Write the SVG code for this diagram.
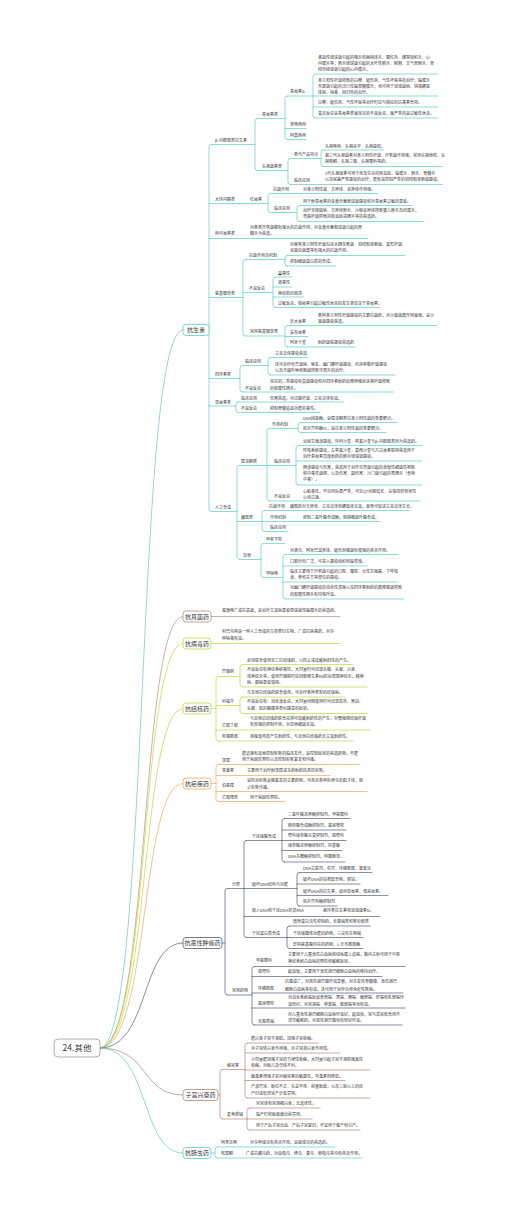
<svg xmlns="http://www.w3.org/2000/svg" width="505" height="1213" viewBox="0 0 505 1213">
<style>
text{font-family:"Noto Sans CJK SC","Noto Sans",sans-serif;font-size:4px;fill:#3a3a3a}
.m{font-size:6px;text-anchor:middle}
.r{font-size:8.5px;text-anchor:middle}
path{fill:none;stroke-width:0.7;stroke-linecap:round}
rect{fill:#fff;stroke-width:0.8}
.k1{stroke:#5ccdc8}.k2{stroke:#b68e79}.k3{stroke:#c2d63c}.k4{stroke:#f3a65e}.k5{stroke:#515b7d}.k6{stroke:#b5847c}
</style>
<rect width="505" height="1213" fill="#fff" stroke="none"/>
<g id="connectors">
<path class="k1" d="M100,1048C150,1048 135,330 183,330"/>
<path class="k2" d="M100,1048C150,1048 140,616.5 183,616.5"/>
<path class="k3" d="M100,1048C150,1048 140,643.5 183,643.5"/>
<path class="k3" d="M100,1048C150,1048 140,708.5 183,708.5"/>
<path class="k4" d="M100,1048C150,1048 140,783.5 183,783.5"/>
<path class="k5" d="M100,1048C150,1048 140,943 183,943"/>
<path class="k6" d="M100,1048C150,1048 140,1095 183,1095"/>
<path class="k1" d="M100,1048C150,1048 140,1153 183,1153"/>
<g class="k1">
<path d="M211.5,144.5Q209,144.5 209,147V509Q209,511.5 211.5,511.5"/>
<path d="M211.5,144.5H255M209,203.5H268M209,238.5H368M209,297.5H243M209,378.5H240M209,406H236M211.5,511.5H237"/>
<path d="M257.5,118.5Q255,118.5 255,121V168Q255,170.5 257.5,170.5"/>
<path d="M257.5,118.5H285M257.5,170.5H288"/>
<path d="M287.5,96Q285,96 285,98.5V137Q285,139.5 287.5,139.5"/>
<path d="M287.5,96H313M285,128.5H306M287.5,139.5H306"/>
<path d="M315.5,74Q313,74 313,76.5V115.5Q313,118 315.5,118"/>
<path d="M315.5,74H438M313,96H438M313,107H438M315.5,118H438"/>
<path d="M290.5,158.5Q288,158.5 288,161V182Q288,184.5 290.5,184.5"/>
<path d="M290.5,158.5H321M290.5,184.5H442"/>
<path d="M323.5,150Q321,150 321,152.5V164Q321,166.5 323.5,166.5"/>
<path d="M323.5,150H384M323.5,166.5H442"/>
<path d="M270.5,193.5Q268,193.5 268,196V210Q268,212.5 270.5,212.5"/>
<path d="M270.5,193.5H378M270.5,212.5H297"/>
<path d="M299.5,205.5Q297,205.5 297,208V219Q297,221.5 299.5,221.5"/>
<path d="M299.5,205.5H412M299.5,221.5H423"/>
<path d="M245.5,259.5Q243,259.5 243,262V333.5Q243,336 245.5,336"/>
<path d="M245.5,259.5H285M243,292.5H273M245.5,336H285"/>
<path d="M287.5,255.5Q285,255.5 285,258V263.5Q285,266 287.5,266"/>
<path d="M287.5,255.5H405M287.5,266H336"/>
<path d="M275.5,277Q273,277 273,279.5V305Q273,307.5 275.5,307.5"/>
<path d="M275.5,277H292M273,287H292M273,297H304M275.5,307.5H380"/>
<path d="M287.5,325.5Q285,325.5 285,328V344.5Q285,347 287.5,347"/>
<path d="M287.5,325.5H437M285,336.5H308M287.5,347H355"/>
<path d="M242.5,365.5Q240,365.5 240,368V389.5Q240,392 242.5,392"/>
<path d="M242.5,365.5H268M242.5,392H393"/>
<path d="M270.5,357.5Q268,357.5 268,360V372.5Q268,375 270.5,375"/>
<path d="M270.5,357.5H308M270.5,375H395"/>
<path d="M238.5,402Q236,402 236,404.5V410Q236,412.5 238.5,412.5"/>
<path d="M238.5,402H344M238.5,412.5H320"/>
<path d="M239.5,465.5Q237,465.5 237,468V557Q237,559.5 239.5,559.5"/>
<path d="M239.5,465.5H267M237,521.5H262M239.5,559.5H261"/>
<path d="M269.5,428.5Q267,428.5 267,431V498.5Q267,501 269.5,501"/>
<path d="M269.5,428.5H298M267,465.5H296M269.5,501H420"/>
<path d="M300.5,422.5Q298,422.5 298,425V430Q298,432.5 300.5,432.5"/>
<path d="M300.5,422.5H397M300.5,432.5H386"/>
<path d="M298.5,445.5Q296,445.5 296,448V482.5Q296,485 298.5,485"/>
<path d="M298.5,445.5H422M296,461H422M298.5,485H422"/>
<path d="M264.5,510.5Q262,510.5 262,513V529Q262,531.5 264.5,531.5"/>
<path d="M264.5,510.5H409M262,521.5H380M264.5,531.5H288"/>
<path d="M263.5,543.5Q261,543.5 261,546V575Q261,577.5 263.5,577.5"/>
<path d="M263.5,543.5H285M263.5,577.5H283"/>
<path d="M285.5,554.5Q283,554.5 283,557V596.5Q283,599 285.5,599"/>
<path d="M285.5,554.5H398M283,566H368M283,582H398M285.5,599H404"/>
</g>
<g class="k2"><path d="M211,616.5H340"/></g>
<g class="k3">
<path d="M211,643.5H340"/>
<path d="M211,708.5H216"/>
<path d="M218.5,676.5Q216,676.5 216,679V738.5Q216,741 218.5,741"/>
<path d="M218.5,676.5H240M216,705.5H240M216,730H370M218.5,741H353"/>
<path d="M242.5,664.5Q240,664.5 240,667V684.5Q240,687 242.5,687"/>
<path d="M242.5,664.5H353M242.5,687H367"/>
<path d="M242.5,697Q240,697 240,699.5V711Q240,713.5 242.5,713.5"/>
<path d="M242.5,697H345M242.5,713.5H367"/>
</g>
<g class="k4">
<path d="M211,783.5H216"/>
<path d="M218.5,764.5Q216,764.5 216,767V799Q216,801.5 218.5,801.5"/>
<path d="M218.5,764.5H360M216,775.5H330M216,791.5H367M218.5,801.5H285"/>
</g>
<g class="k5">
<path d="M222,943H225"/>
<path d="M227.5,888.5Q225,888.5 225,891V992.5Q225,995 227.5,995"/>
<path d="M227.5,888.5H244M227.5,995H252"/>
<path d="M246.5,840.5Q244,840.5 244,843V935Q244,937.5 246.5,937.5"/>
<path d="M246.5,840.5H282M244,888.5H297M244,916.5H380M246.5,937.5H287"/>
<path d="M284.5,818.5Q282,818.5 282,821V859.5Q282,862 284.5,862"/>
<path d="M284.5,818.5H350M282,830H346M282,840.5H346M282,850.5H342M284.5,862H345"/>
<path d="M299.5,872.5Q297,872.5 297,875V903.5Q297,906 299.5,906"/>
<path d="M299.5,872.5H372M297,884H360M297,895.5H388M299.5,906H337"/>
<path d="M289.5,926Q287,926 287,928.5V946Q287,948.5 289.5,948.5"/>
<path d="M289.5,926H370M287,937.5H363M289.5,948.5H363"/>
<path d="M254.5,966.5Q252,966.5 252,969V1022.5Q252,1025 254.5,1025"/>
<path d="M254.5,966.5H405M252,976.5H382M252,993H403M252,1008H405M254.5,1025H402"/>
</g>
<g class="k6">
<path d="M218,1095H220"/>
<path d="M222.5,1069.5Q220,1069.5 220,1072V1116.5Q220,1119 222.5,1119"/>
<path d="M222.5,1069.5H245M222.5,1119H247"/>
<path d="M247.5,1043Q245,1043 245,1045.5V1095.5Q245,1098 247.5,1098"/>
<path d="M247.5,1043H318M245,1053H340M245,1070H370M245,1080.5H345M247.5,1098H370"/>
<path d="M249.5,1108Q247,1108 247,1110.5V1127.5Q247,1130 249.5,1130"/>
<path d="M249.5,1108H320M247,1119H312M249.5,1130H360"/>
</g>
<g class="k1">
<path d="M211,1153H215"/>
<path d="M217.5,1147Q215,1147 215,1149.5V1155.5Q215,1158 217.5,1158"/>
<path d="M217.5,1147H335M217.5,1158H362"/>
</g>
</g>
<g id="root"><rect x="54" y="1039" width="46" height="18" rx="4" style="stroke:#999"/><text class="r" x="77" y="1051">24.其他</text></g>
<g id="n-kss">
<rect class="k1" x="183" y="324.5" width="26" height="11" rx="3"/><text class="m" x="196" y="332.1">抗生素</text>
<text x="215" y="141.5">β-内酰胺类抗生素</text>
<text x="262" y="115.5">青霉素类</text>
<text x="290" y="92.5">青霉素G</text>
<text x="318" y="59">溶血性链球菌引起的咽炎和扁桃体炎、猩红热、蜂窝组织炎、心</text>
<text x="318" y="65">内膜炎等；肺炎链球菌引起的大叶性肺炎、脓胸、支气管肺炎、草</text>
<text x="318" y="71">绿色链球菌引起的心内膜炎。</text>
<text x="318" y="82">革兰阳性杆菌所致的白喉、破伤风、气性坏疽等的治疗；脑膜炎</text>
<text x="318" y="87.8">奈瑟菌引起的流行性脑脊髓膜炎；也可用于放线菌病、钩端螺旋</text>
<text x="318" y="93.5">体病、梅毒、回归热的治疗。</text>
<text x="318" y="103.5">白喉、破伤风、气性坏疽等治疗时应与相应的抗毒素合用。</text>
<text x="318" y="115">变态反应是青霉素类最常见的不良反应，最严重的是过敏性休克。</text>
<text x="290" y="125.5">苯唑西林</text>
<text x="290" y="136.5">阿莫西林</text>
<text x="262" y="167.5">头孢菌素类</text>
<text x="294" y="155.5">各代产品特点</text>
<text x="325" y="147.5">头孢唑林、头孢呋辛、头孢曲松。</text>
<text x="325" y="157">第三代头孢菌素对革兰阴性杆菌、厌氧菌作用强，常用头孢他啶、头</text>
<text x="325" y="163">孢哌酮、头孢三嗪、头孢噻肟等药。</text>
<text x="294" y="181.5">临床应用</text>
<text x="325" y="174.5">3代头孢菌素可用于危及生命的败血症、脑膜炎、肺炎、骨髓炎</text>
<text x="325" y="180.8">以及尿路严重感染的治疗，能有效控制严重的铜绿假单胞菌感染。</text>
<text x="215" y="200.5">大环内酯类</text>
<text x="250" y="200.5">红霉素</text>
<text x="273" y="190.5">抗菌作用</text>
<text x="303" y="190.5">对革兰阳性菌、支原体、衣原体作用强。</text>
<text x="274" y="209.5">临床应用</text>
<text x="303" y="202.5">用于耐青霉素的金黄色葡萄球菌感染和对青霉素过敏的患者。</text>
<text x="303" y="212">治疗军团菌病、支原体肺炎、沙眼衣原体所致婴儿肺炎及结膜炎，</text>
<text x="303" y="218.2">弯曲杆菌所致的败血症或肠炎等的首选药。</text>
<text x="215" y="234.5">林可霉素类</text>
<text x="250" y="229">对各类厌氧菌都有强大的抗菌作用，对金黄色葡萄球菌引起的骨</text>
<text x="250" y="235.3">髓炎为首选。</text>
<text x="215" y="294.5">氨基糖苷类</text>
<text x="249" y="256.5">抗菌作用及机制</text>
<text x="290" y="245.8">对需氧革兰阴性杆菌包括大肠埃希菌、铜绿假单胞菌、变形杆菌、</text>
<text x="290" y="252">克雷伯菌属等有强大的抗菌作用。</text>
<text x="290" y="263.2">抑制细菌蛋白质的合成。</text>
<text x="249" y="289.5">不良反应</text>
<text x="278" y="274.5">耳毒性</text>
<text x="278" y="284">肾毒性</text>
<text x="278" y="294.5">神经肌肉阻滞</text>
<text x="278" y="304.5">过敏反应，链霉素引起过敏性休克的发生率仅次于青霉素。</text>
<text x="250" y="333">常用氨基糖苷类</text>
<text x="290" y="322.5">庆大霉素</text>
<text x="318" y="316.5">各种革兰阴性杆菌感染的主要抗菌药，对沙雷菌属作用最强，是沙</text>
<text x="318" y="322.5">雷菌感染首选。</text>
<text x="290" y="333.5">妥布霉素</text>
<text x="290" y="344">阿米卡星</text>
<text x="318" y="344">耐药菌株感染首选药</text>
<text x="215" y="375.5">四环素类</text>
<text x="245" y="362.5">临床应用</text>
<text x="275" y="354.5">立克次体感染首选</text>
<text x="275" y="365.5">还可治疗布鲁菌病、霍乱、幽门螺杆菌感染、肉芽肿鞘杆菌感染</text>
<text x="275" y="372">以及牙龈卟啉单胞菌所致牙周炎的治疗。</text>
<text x="245" y="389.5">不良反应</text>
<text x="270" y="383">常见的二重感染有真菌感染和对四环素耐药的难辨梭状芽孢杆菌所致</text>
<text x="270" y="389.5">的假膜性肠炎。</text>
<text x="215" y="403.5">氯霉素类</text>
<text x="241" y="399.5">临床应用</text>
<text x="270" y="399.5">伤寒首选，对流感杆菌、立克次体有效。</text>
<text x="241" y="410">不良反应</text>
<text x="270" y="410">抑制骨髓造血功能的毒性。</text>
<text x="215" y="508.5">人工合成</text>
<text x="241" y="462.5">喹诺酮类</text>
<text x="272" y="425.5">作用机制</text>
<text x="303" y="419.8">DNA回旋酶，是喹诺酮类抗革兰阴性菌的重要靶点。</text>
<text x="303" y="429.8">拓扑异构酶Ⅳ，是抗革兰阳性菌的重要靶点。</text>
<text x="274" y="462.5">临床应用</text>
<text x="303" y="442.5">泌尿生殖道感染，环丙沙星、氧氟沙星与β-内酰胺类同为首选药。</text>
<text x="303" y="452.2">呼吸系统感染，左氧氟沙星、莫西沙星与万古霉素联用首选用于</text>
<text x="303" y="458.4">治疗青霉素高度耐药的肺炎链球菌感染。</text>
<text x="303" y="468.5">肠道感染与伤寒，首选用于治疗志贺菌引起的急慢性细菌性痢疾</text>
<text x="303" y="474.8">和中毒性菌痢，以及伤寒、副伤寒、沙门菌引起的胃肠炎（食物</text>
<text x="303" y="481.1">中毒）。</text>
<text x="274" y="497.5">不良反应</text>
<text x="303" y="492.7">心脏毒性，罕见但后果严重，可见QT间期延长、尖端扭转型室性</text>
<text x="303" y="499">心动过速。</text>
<text x="241" y="518.5">磺胺类</text>
<text x="269" y="507.5">抗菌作用</text>
<text x="290" y="507.5">磺胺药对支原体、立克次体和螺旋体无效，甚至可促进立克次体生长。</text>
<text x="270" y="518.5">作用机制</text>
<text x="303" y="518.5">抑制二氢叶酸合成酶，阻碍细菌叶酸合成。</text>
<text x="270" y="528.8">临床应用</text>
<text x="243" y="556.5">其他</text>
<text x="266" y="540.5">甲氧苄啶</text>
<text x="266" y="574.5">甲硝唑</text>
<text x="290" y="551.5">对滴虫、阿米巴滋养体、破伤风梭菌有很强的杀灭作用。</text>
<text x="290" y="563.2">口服分布广泛，可进入感染组织和脑脊液。</text>
<text x="290" y="573.2">临床主要用于厌氧菌引起的口腔、腹腔、女性生殖器、下呼吸</text>
<text x="290" y="579.3">道、骨和关节等部位的感染。</text>
<text x="290" y="589.3">对幽门螺杆菌感染的消化性溃疡以及四环素耐药的艰难梭菌所致</text>
<text x="290" y="595.5">的假膜性肠炎有特殊疗效。</text>
</g>
<g id="n-kzjy">
<rect class="k2" x="183" y="611" width="28" height="11" rx="3"/><text class="m" x="197" y="618.6">抗真菌药</text>
<text x="222" y="611.5">氟康唑广谱抗真菌，是治疗艾滋病患者隐球菌性脑膜炎的首选药。</text>
</g>
<g id="n-kbdy">
<rect class="k3" x="183" y="638" width="28" height="11" rx="3"/><text class="m" x="197" y="645.6">抗病毒药</text>
<text x="222" y="633.2">利巴韦林是一种人工合成的鸟苷类衍生物，广谱抗病毒药，对多</text>
<text x="222" y="639.8">种病毒有效。</text>
</g>
<g id="n-kjhy">
<rect class="k3" x="183" y="703" width="28" height="11" rx="3"/><text class="m" x="197" y="710.6">抗结核药</text>
<text x="222" y="673.2">异烟肼</text>
<text x="247" y="661.5">必须联合使用其它抗结核药，以防止或延缓耐药性的产生。</text>
<text x="247" y="671.3">不良反应有神经系统毒性，大剂量时可出现头痛、头晕、兴奋、</text>
<text x="247" y="677.5">视神经炎等，使用异烟肼时应同服维生素B6防治周围神经炎，精神</text>
<text x="247" y="683.7">病、癫痫患者慎用。</text>
<text x="222" y="702.5">利福平</text>
<text x="247" y="694.2">与其他抗结核药联合使用，可治疗各种类型的结核病。</text>
<text x="247" y="703.2">不良反应有：消化道反应，大剂量间隔使用时可出现发热、寒战、</text>
<text x="247" y="709.6">头痛、肌肉酸痛等类似感冒的症状。</text>
<text x="222" y="726.5">乙胺丁醇</text>
<text x="250" y="719.8">与其他抗结核药联合应用可延缓耐药性的产生，对繁殖期结核杆菌</text>
<text x="250" y="726">有较强的抑制作用，对其他细菌无效。</text>
<text x="222" y="737.5">吡嗪酰胺</text>
<text x="250" y="737.5">单独使用易产生耐药性，与其他抗结核药无交叉耐药性。</text>
</g>
<g id="n-knjy">
<rect class="k4" x="183" y="778" width="28" height="11" rx="3"/><text class="m" x="197" y="785.6">抗疟疾药</text>
<text x="222" y="761.5">氯喹</text>
<text x="242" y="754.8">能迅速有效地控制疟疾的临床发作，是控制症状的首选药物，不能</text>
<text x="242" y="761">用于病因性预防以及控制疟疾复发和传播。</text>
<text x="222" y="772.2">青蒿素</text>
<text x="247" y="772.2">主要用于治疗耐氯喹或多药耐药的恶性疟疾。</text>
<text x="222" y="786.5">伯氨喹</text>
<text x="247" y="782.2">是防治疟疾远期复发的主要药物，可杀灭各种疟原虫的配子体，阻</text>
<text x="247" y="788.6">止疟疾传播。</text>
<text x="222" y="798.8">乙胺嘧啶</text>
<text x="250" y="798.8">用于病因性预防。</text>
</g>
<g id="n-kexzly">
<rect class="k5" x="183" y="937.5" width="39" height="11" rx="3"/><text class="m" x="202.5" y="945.1">抗恶性肿瘤药</text>
<text x="232" y="885.5">分类</text>
<text x="252" y="837.5">干扰核酸合成</text>
<text x="288" y="815.8">二氢叶酸还原酶抑制剂，甲氨蝶呤</text>
<text x="288" y="827.2">胸苷酸合成酶抑制剂，氟尿嘧啶</text>
<text x="288" y="837">嘌呤核苷酸互变抑制剂，巯嘌呤</text>
<text x="288" y="847.2">核苷酸还原酶抑制剂，羟基脲</text>
<text x="288" y="858.2">DNA多聚酶抑制剂，阿糖胞苷。</text>
<text x="252" y="885.5">破坏DNA结构与功能</text>
<text x="303" y="869.8">DNA交联剂，氮芥、环磷酰胺、塞替派</text>
<text x="303" y="880.8">破坏DNA的铂类配合物，顺铂。</text>
<text x="303" y="892.5">破坏DNA的抗生素，如丝裂霉素、博来霉素。</text>
<text x="303" y="902.5">拓扑异构酶抑制剂</text>
<text x="252" y="912.2">嵌入DNA和干扰DNA转录RNA</text>
<text x="323" y="912.2">蒽环类抗生素和放线菌素D。</text>
<text x="252" y="934.8">干扰蛋白质合成</text>
<text x="293" y="923.2">微管蛋白活性抑制药，长春碱类和紫杉醇类</text>
<text x="293" y="934.8">干扰核糖体功能的药物，三尖杉生物碱</text>
<text x="293" y="945.5">影响氨基酸供应的药物，L-天冬酰胺酶</text>
<text x="232" y="992.2">常用药物</text>
<text x="256" y="961.5">甲氨蝶呤</text>
<text x="288" y="955.8">主要用于儿童急性白血病和绒毛膜上皮癌，鞘内注射可用于中枢</text>
<text x="288" y="962.5">神经系统白血病的预防和缓解症状。</text>
<text x="258" y="973.2">巯嘌呤</text>
<text x="288" y="973.2">起效慢，主要用于急性淋巴细胞白血病的维持治疗。</text>
<text x="258" y="989.8">环磷酰胺</text>
<text x="285" y="983.2">抗瘤谱广，对恶性淋巴瘤疗效显著，对多发性骨髓瘤、急性淋巴</text>
<text x="285" y="990.5">细胞白血病等有效，还可用于治疗自身免疫性疾病。</text>
<text x="258" y="1004.8">氟尿嘧啶</text>
<text x="288" y="998.8">对消化系统癌症如食管癌、胃癌、肠癌、胰腺癌、肝癌和乳腺癌疗</text>
<text x="288" y="1005.5">效较好，对宫颈癌、卵巢癌、膀胱癌等也有效。</text>
<text x="258" y="1022.5">长春新碱</text>
<text x="288" y="1015.5">对儿童急性淋巴细胞白血病疗效好，起效快，常与泼尼松合用作</text>
<text x="288" y="1022.2">诱导缓解药，对恶性淋巴瘤也有较好疗效。</text>
</g>
<g id="n-zgxfy">
<rect class="k6" x="183" y="1089.5" width="35" height="11" rx="3"/><text class="m" x="200.5" y="1097.1">子宫兴奋药</text>
<text x="227" y="1066.5">缩宫素</text>
<text x="251" y="1039.8">能兴奋子宫平滑肌，加强子宫收缩。</text>
<text x="251" y="1049.8">对子宫体兴奋作用强，对子宫颈兴奋作用弱。</text>
<text x="251" y="1060.5">小剂量能加强子宫的节律性收缩，大剂量引起子宫平滑肌强直性</text>
<text x="251" y="1067">收缩，对胎儿及母体不利。</text>
<text x="251" y="1077.5">雌激素增强子宫对缩宫素的敏感性，孕激素则降低。</text>
<text x="251" y="1088.2">产道异常、胎位不正、头盆不称、前置胎盘，以及三胎以上的经</text>
<text x="251" y="1094.8">产妇或有剖宫产史者禁用。</text>
<text x="227" y="1115.8">麦角新碱</text>
<text x="256" y="1104.8">对宫体和宫颈都兴奋，无选择性。</text>
<text x="256" y="1115.8">临产时和胎盘娩出前禁用。</text>
<text x="256" y="1126.5">用于产后子宫出血、产后子宫复旧，不宜用于催产和引产。</text>
</g>
<g id="n-kccy">
<rect class="k1" x="183" y="1147.5" width="28" height="11" rx="3"/><text class="m" x="197" y="1155.1">抗肠虫药</text>
<text x="221" y="1143.8">阿苯达唑</text>
<text x="250" y="1143.8">对多种线虫有杀灭作用，是驱线虫的首选药。</text>
<text x="221" y="1154.5">吡喹酮</text>
<text x="246" y="1154.5">广谱抗蠕虫药，对血吸虫、绦虫、囊虫、肺吸虫等均有杀灭作用。</text>
</g>
</svg>
